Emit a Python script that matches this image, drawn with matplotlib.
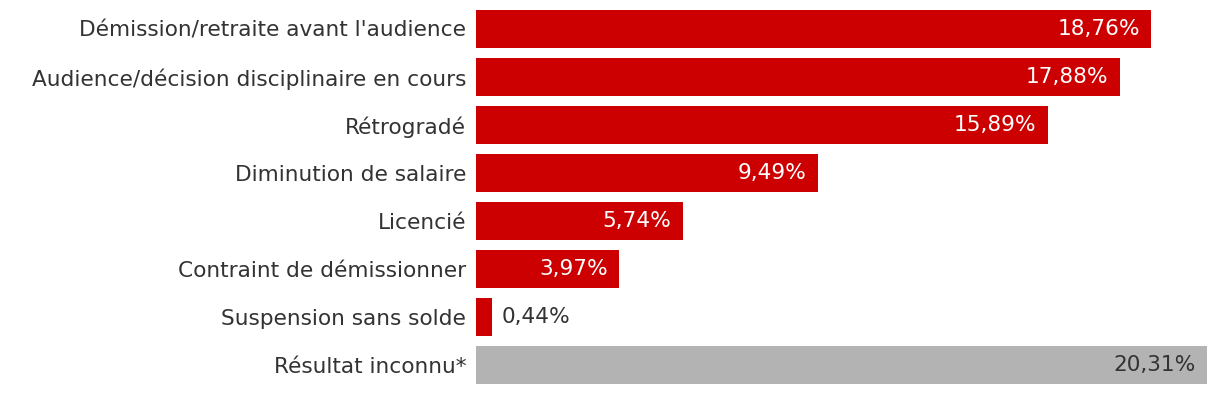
import matplotlib
matplotlib.use("Agg")
import matplotlib.pyplot as plt

categories = [
    "Démission/retraite avant l'audience",
    "Audience/décision disciplinaire en cours",
    "Rétrogradé",
    "Diminution de salaire",
    "Licencié",
    "Contraint de démissionner",
    "Suspension sans solde",
    "Résultat inconnu*",
]
values = [18.76, 17.88, 15.89, 9.49, 5.74, 3.97, 0.44, 20.31]
colors = ["#cc0000"] * 7 + ["#b3b3b3"]

plt.rcParams['font.family'] = ['DejaVu Sans']
text_color = "#333333"
fs = 15.6

fig = plt.figure(figsize=(12.2, 3.96), dpi=100)
ax = fig.add_axes([476 / 1220, 7 / 396, 731 / 1220, 384 / 396])

y = list(range(len(categories)))
ax.barh(y, values, height=0.8, color=colors)

ax.set_xlim(0, max(values))
ax.set_ylim(len(categories) - 0.5, -0.5)
ax.set_yticks(y)
ax.set_yticklabels(categories, fontsize=fs, color=text_color)
ax.tick_params(axis='y', length=0, pad=7)
ax.set_xticks([])
for s in ax.spines.values():
    s.set_visible(False)

for i, (v, c) in enumerate(zip(values, colors)):
    label = f"{v:.2f}".replace(".", ",") + "%"
    if v < 2:
        ax.annotate(label, (v, i), xytext=(7, 0), textcoords="offset points",
                    ha="left", va="center", fontsize=fs, color=text_color)
    else:
        col = "white" if c == "#cc0000" else text_color
        ax.annotate(label, (v, i), xytext=(-8, 0), textcoords="offset points",
                    ha="right", va="center", fontsize=fs, color=col)

fig.savefig("out.png", dpi=100)
